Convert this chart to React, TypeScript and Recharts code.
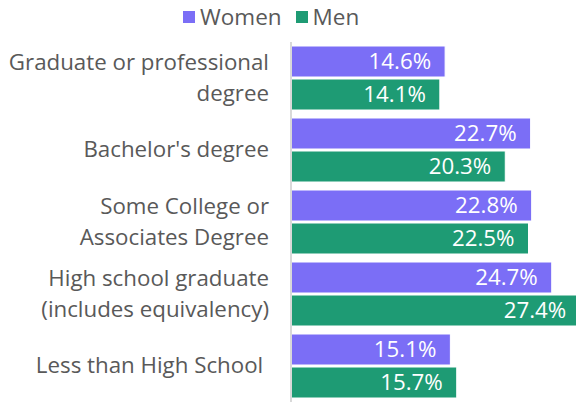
import { Bar, BarChart, LabelList, XAxis, YAxis } from "recharts";

const categories = [
  "Graduate or professional\ndegree",
  "Bachelor's degree",
  "Some College or\nAssociates Degree",
  "High school graduate\n(includes equivalency)",
  "Less than High School\u00a0",
];
const women = [14.6, 22.7, 22.8, 24.7, 15.1];
const men = [14.1, 20.3, 22.5, 27.4, 15.7];

const data = categories.map((name, i) => ({ name, women: women[i], men: men[i] }));

const FONT = "'Open Sans', sans-serif";
const TEXT = "#595959";
const WOMEN = "#7b6ef6";
const MEN = "#1e9b74";

interface TickProps {
  x?: number;
  y?: number;
  payload?: { value: string };
}

function CategoryTick({ x = 0, y = 0, payload }: TickProps) {
  const lines = (payload?.value ?? "").split("\n");
  const lh = 31;
  const start = y - 2 - ((lines.length - 1) * lh) / 2;
  return (
    <text
      x={x - 14}
      y={start}
      textAnchor="end"
      dominantBaseline="central"
      fill={TEXT}
      fontSize={22.3}
      fontFamily={FONT}
    >
      {lines.map((l, i) => (
        <tspan key={i} x={x - 14} y={start + i * lh}>
          {l}
        </tspan>
      ))}
    </text>
  );
}

function LegendBox() {
  const items = [
    { label: "Women", color: WOMEN },
    { label: "Men", color: MEN },
  ];
  return (
    <div
      style={{
        position: "absolute",
        top: 3,
        left: 183,
        display: "flex",
        gap: 14,
        fontFamily: FONT,
        fontSize: 22.5,
        lineHeight: "28px",
        color: TEXT,
      }}
    >
      {items.map((it) => (
        <span key={it.label} style={{ display: "flex", alignItems: "center", gap: 5 }}>
          <span style={{ width: 12, height: 12, background: it.color, display: "inline-block" }} />
          {it.label}
        </span>
      ))}
    </div>
  );
}

const fmt = (v: unknown) => `${Number(v).toFixed(1)}%`;

export default function App() {
  return (
    <div style={{ position: "absolute", left: 0, top: 0, width: 576, height: 402, background: "#fff", overflow: "hidden" }}>
      <BarChart
        width={576}
        height={402}
        data={data}
        layout="vertical"
        margin={{ top: 42, right: 0, left: 0, bottom: 0 }}
        barCategoryGap={4}
        barGap={2}
        style={{ overflow: "hidden" }}
      >
        <XAxis type="number" domain={[0, 27]} allowDataOverflow hide />
        <YAxis
          type="category"
          dataKey="name"
          width={291}
          axisLine={{ stroke: "#d9d9d9", strokeWidth: 2 }}
          tickLine={false}
          tick={<CategoryTick />}
          interval={0}
        />
        <Bar dataKey="women" name="Women" fill={WOMEN} stroke="#fff" strokeWidth={1} isAnimationActive={false}>
          <LabelList
            dataKey="women"
            position="insideRight"
            offset={14}
            formatter={fmt}
            fill="#fff"
            fontSize={22.3}
            fontFamily={FONT}
          />
        </Bar>
        <Bar dataKey="men" name="Men" fill={MEN} stroke="#fff" strokeWidth={1} isAnimationActive={false}>
          <LabelList
            dataKey="men"
            position="insideRight"
            offset={14}
            formatter={fmt}
            fill="#fff"
            fontSize={22.3}
            fontFamily={FONT}
          />
        </Bar>
      </BarChart>
      <LegendBox />
    </div>
  );
}
